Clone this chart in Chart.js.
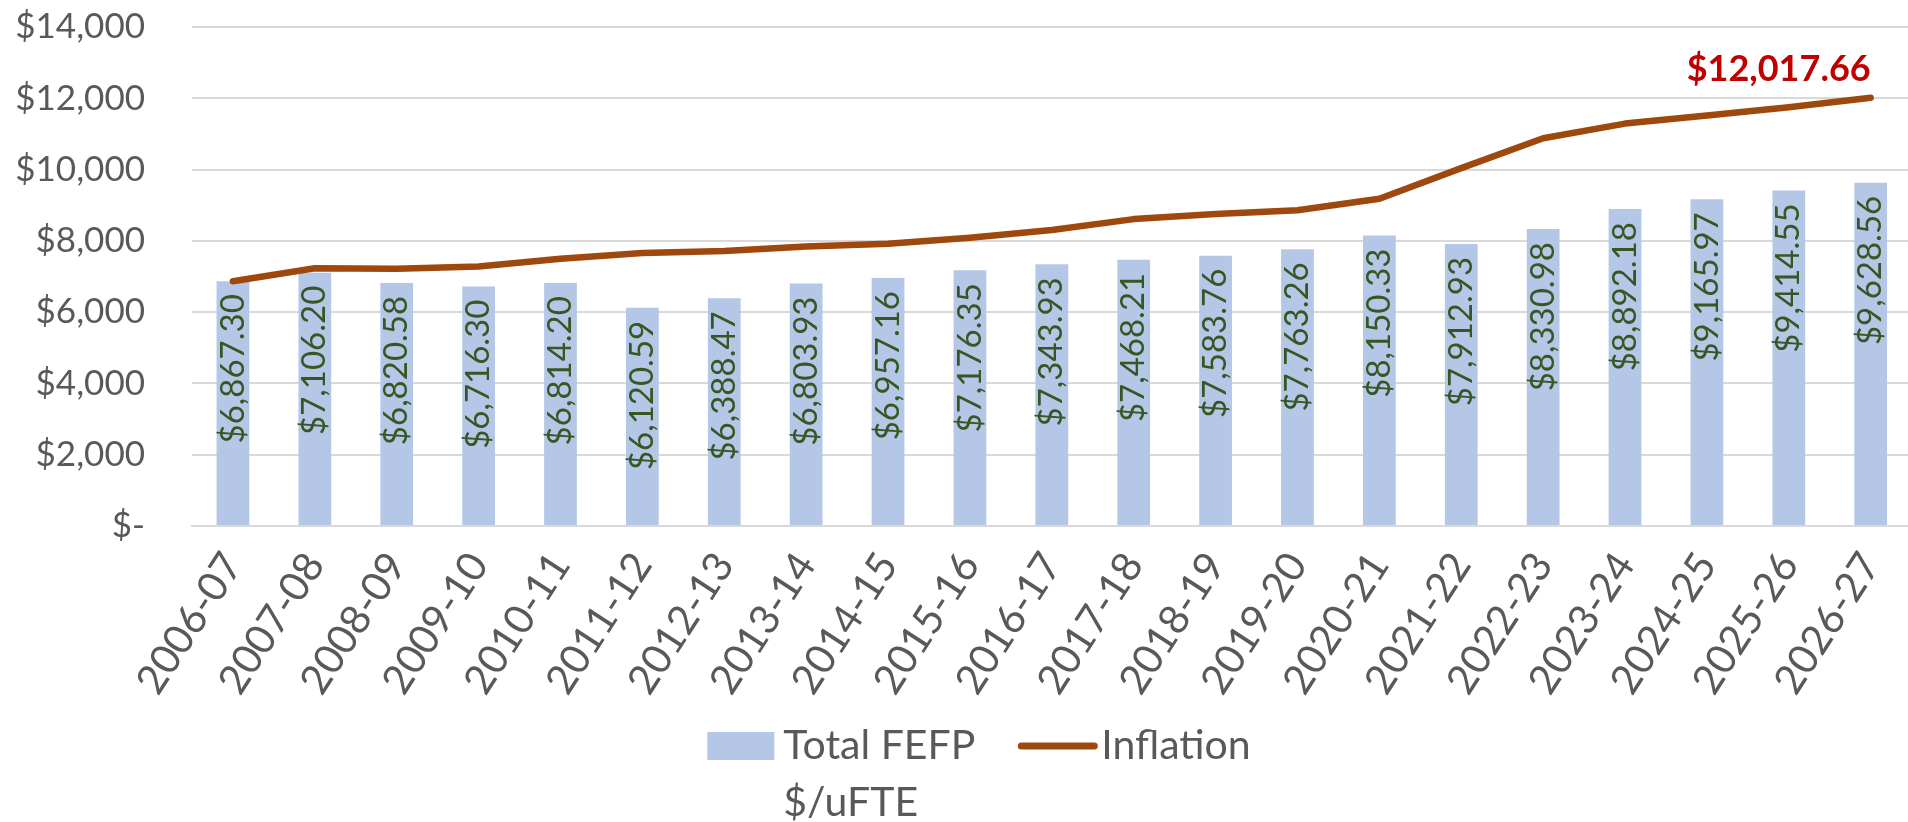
<!DOCTYPE html>
<html>
<head>
<meta charset="utf-8">
<title>Total FEFP $/uFTE vs Inflation</title>
<script src="https://cdn.jsdelivr.net/npm/chart.js@4.4.0/dist/chart.umd.min.js"></script>
<style>
  html, body { margin: 0; padding: 0; background: #ffffff; overflow: hidden; }
  #wrap { width: 1930px; height: 822px; }
</style>
</head>
<body>
<div id="wrap"><canvas id="fefpChart"></canvas></div>
<script>
// data
const years = ['2006-07', '2007-08', '2008-09', '2009-10', '2010-11', '2011-12', '2012-13',
  '2013-14', '2014-15', '2015-16', '2016-17', '2017-18', '2018-19', '2019-20',
  '2020-21', '2021-22', '2022-23', '2023-24', '2024-25', '2025-26', '2026-27'];
const totalFefp = [6867.30, 7106.20, 6820.58, 6716.30, 6814.20, 6120.59, 6388.47,
  6803.93, 6957.16, 7176.35, 7343.93, 7468.21, 7583.76, 7763.26,
  8150.33, 7912.93, 8330.98, 8892.18, 9165.97, 9414.55, 9628.56];
const inflation = [6867.30, 7230, 7220, 7280, 7500, 7660, 7715,
  7840, 7920, 8090, 8305, 8610, 8755, 8860,
  9180, 10040, 10880, 11290, 11520, 11750, 12017.66];
const yTickValues = [0, 2000, 4000, 6000, 8000, 10000, 12000, 14000];
const seriesNames = [['Total FEFP', '$/uFTE'], 'Inflation'];

const grey = '#595959';
const barBlue = '#B4C7E7';
const rust = '#9E480E';
const money = v => '$' + v.toLocaleString('en-US', { minimumFractionDigits: 2, maximumFractionDigits: 2 });

// vertical value labels inside bars + callout on last inflation point
const valueLabels = {
  id: 'valueLabels',
  afterDatasetsDraw(chart) {
    const ctx = chart.ctx;
    ctx.save();
    ctx.font = '33px Lato';
    ctx.fillStyle = '#375623';
    ctx.textAlign = 'right';
    ctx.textBaseline = 'middle';
    chart.getDatasetMeta(0).data.forEach((bar, i) => {
      ctx.save();
      ctx.translate(bar.x, bar.y + 13);
      ctx.rotate(-Math.PI / 2);
      ctx.fillText(money(totalFefp[i]), 0, 0);
      ctx.restore();
    });

    const pts = chart.getDatasetMeta(1).data;
    const last = pts[pts.length - 1];
    ctx.font = 'bold 36px Lato';
    ctx.fillStyle = '#C00000';
    ctx.textBaseline = 'bottom';
    ctx.fillText(money(inflation[inflation.length - 1]), last.x, last.y - 10);
    ctx.restore();
  }
};

// legend under the axis, first entry wraps onto two lines
const bottomLegend = {
  id: 'bottomLegend',
  afterDraw(chart) {
    const ctx = chart.ctx;
    const rowY = chart.chartArea.bottom + 220;
    const lineGap = 57;
    ctx.save();
    ctx.font = '41px Lato';
    ctx.textAlign = 'left';
    ctx.textBaseline = 'middle';
    const w0 = Math.max(...seriesNames[0].map(t => ctx.measureText(t).width));
    const w1 = ctx.measureText(seriesNames[1]).width;
    const total = 67 + 9 + w0 + 43 + 79 + 4 + w1;
    let x = chart.width / 2 + 14 - total / 2;

    ctx.fillStyle = barBlue;
    ctx.fillRect(x, rowY - 14, 67, 28);
    x += 67 + 9;
    ctx.fillStyle = grey;
    seriesNames[0].forEach((t, k) => ctx.fillText(t, x, rowY + k * lineGap));
    x += w0 + 43;

    ctx.strokeStyle = rust;
    ctx.lineWidth = 7;
    ctx.lineCap = 'round';
    ctx.beginPath();
    ctx.moveTo(x + 3, rowY);
    ctx.lineTo(x + 76, rowY);
    ctx.stroke();
    x += 79 + 4;
    ctx.fillText(seriesNames[1], x, rowY);
    ctx.restore();
  }
};

const ctx = document.getElementById('fefpChart').getContext('2d');
const fefpChart = new Chart(ctx, {
  type: 'bar',
  data: {
    labels: years,
    datasets: [{
      type: 'bar',
      label: 'Total FEFP $/uFTE',
      data: totalFefp,
      backgroundColor: barBlue,
      categoryPercentage: 1,
      barPercentage: 0.4,
      order: 2
    }, {
      type: 'line',
      label: 'Inflation',
      data: inflation,
      borderColor: rust,
      backgroundColor: rust,
      borderWidth: 6.5,
      borderCapStyle: 'round',
      borderJoinStyle: 'round',
      tension: 0,
      pointRadius: 0,
      fill: false,
      order: 1
    }]
  },
  options: {
    responsive: true,
    maintainAspectRatio: false,
    animation: false,
    layout: { padding: { top: 27, right: 2, bottom: 0 } },
    scales: {
      x: {
        grid: { display: false, drawTicks: false },
        border: { display: true, color: '#d9d9d9', width: 2 },
        afterFit: s => { s.height = 296; },
        ticks: {
          color: grey,
          font: { family: 'Lato', size: 41 },
          minRotation: 57,
          maxRotation: 57,
          autoSkip: false,
          padding: 18
        }
      },
      y: {
        min: 0,
        max: 14000,
        afterBuildTicks: s => { s.ticks = yTickValues.map(v => ({ value: v })); },
        // keep the wide label gap from pushing the plot down
        afterFit: s => { s.width = 192; s.paddingTop = 0; s.paddingBottom = 0; },
        grid: { color: '#d9d9d9', lineWidth: 2, drawTicks: false },
        border: { display: false },
        ticks: {
          color: grey,
          padding: 47,
          font: { family: 'Lato', size: 35 },
          callback: v => v === 0 ? '$-' : '$' + v.toLocaleString('en-US')
        }
      }
    },
    plugins: {
      tooltip: { enabled: false },
      legend: { display: false }
    }
  },
  plugins: [valueLabels, bottomLegend]
});
</script>
</body>
</html>
